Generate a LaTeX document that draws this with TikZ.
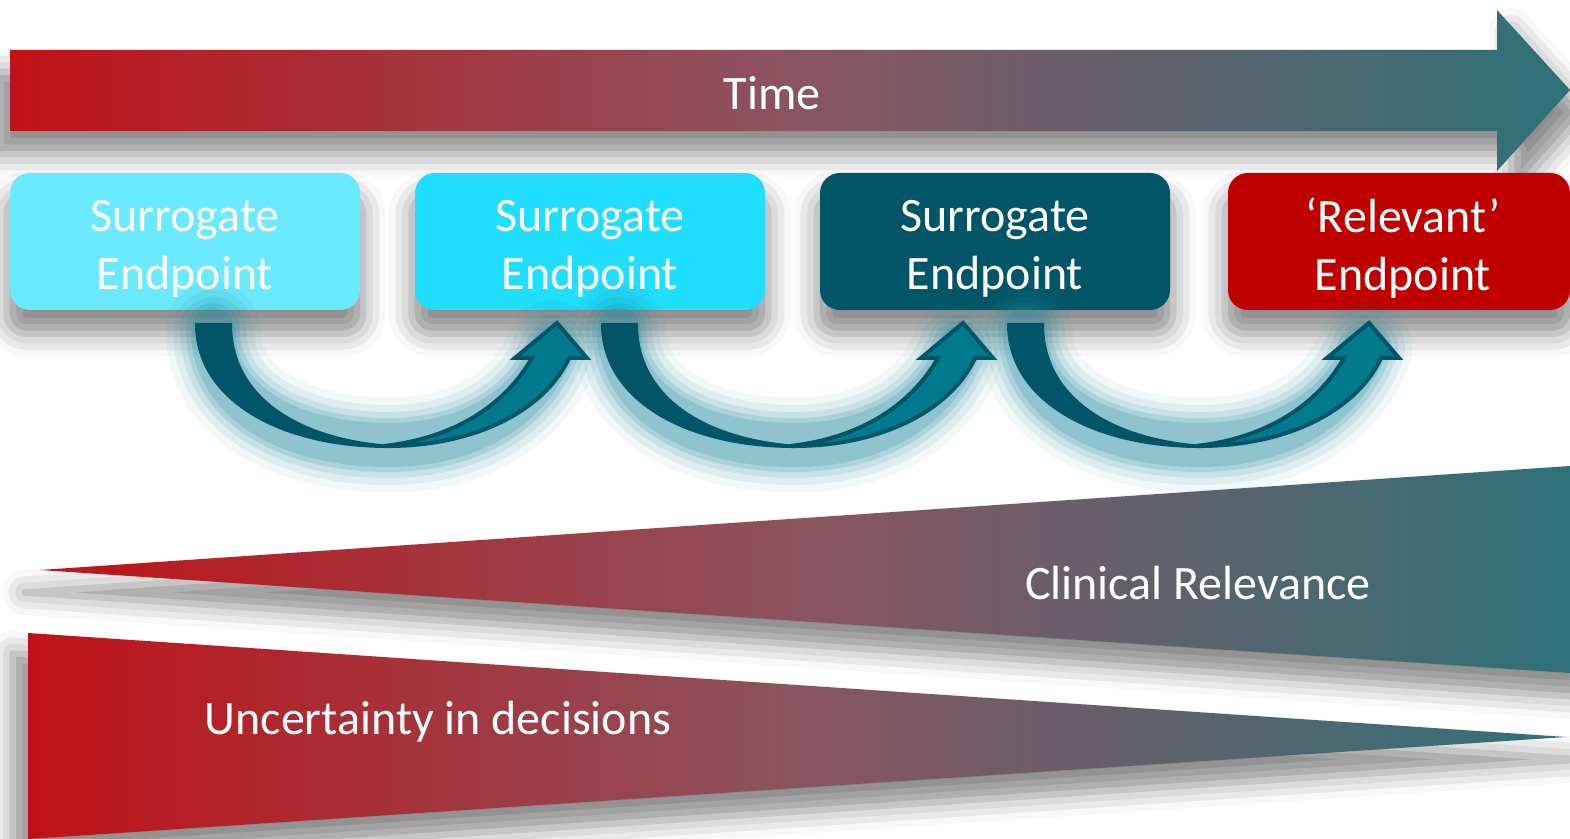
\documentclass[tikz,border=0pt]{standalone}
\usepackage{fontspec}
\setmainfont{Carlito}
\usetikzlibrary{shadows.blur}
\definecolor{gRed}{RGB}{192,18,22}
\definecolor{gMid}{RGB}{138,84,96}
\definecolor{gTeal}{RGB}{46,113,121}
\definecolor{boxA}{RGB}{107,233,254}
\definecolor{boxB}{RGB}{32,222,254}
\definecolor{boxC}{RGB}{0,85,103}
\definecolor{boxD}{RGB}{192,0,0}
\definecolor{arrDark}{RGB}{0,86,104}
\definecolor{arrLight}{RGB}{0,122,140}
\definecolor{glowC}{RGB}{30,135,155}
\tikzset{
  gradfill/.style={left color=gRed, right color=gTeal, middle color=gMid},
  softshadow/.style={blur shadow={shadow xshift=0pt, shadow yshift=-11pt, shadow blur radius=11pt, shadow opacity=45, shadow scale=1.02}},
  epbox/.style={rounded corners=10pt, minimum width=175pt, minimum height=68.5pt, inner sep=0pt, softshadow},
  boxtxt/.style={text=white, font=\fontsize{24}{29}\selectfont, align=center, inner sep=0pt},
  lbl/.style={text=white, font=\fontsize{24}{29}\selectfont, inner sep=0pt},
  glowline/.style={draw=glowC, line cap=round, line join=round},
}
\begin{document}
\begin{tikzpicture}[x=0.5pt, y=-0.5pt]
\useasboundingbox (0,0) rectangle (1570,839);
% Top time arrow
\path[gradfill, softshadow] (10,50) -- (1497,50) -- (1497,10) -- (1570,90) -- (1497,171) -- (1497,131) -- (10,131) -- cycle;
\node[lbl] (time) at (772,93) {Time};
% Wedges
\path[gradfill, softshadow] (40,570) -- (1570,466) -- (1570,673) -- cycle;
\node[lbl] (clin) at (1198,583) {Clinical Relevance};
\path[gradfill, softshadow] (28,633) -- (1566,737) -- (28,839) -- cycle;
\node[lbl] (unc) at (438,722) {Uncertainty in decisions};
% Boxes
\node[epbox, fill=boxA] (b1) at (185,241.5) {};
\node[epbox, fill=boxB] (b2) at (590,241.5) {};
\node[epbox, fill=boxC] (b3) at (995,241.5) {};
\node[epbox, fill=boxD, minimum width=171pt] (b4) at (1399,241.5) {};
\node[boxtxt, yshift=-3.5pt] (t1) at (b1.center) {Surrogate\\Endpoint};
\node[boxtxt, yshift=-3.5pt] (t2) at (b2.center) {Surrogate\\Endpoint};
\node[boxtxt, yshift=-3.5pt] (t3) at (b3.center) {Surrogate\\Endpoint};
\node[boxtxt, yshift=-3.5pt] (t4) at ([xshift=2pt]b4.center) {‘Relevant’\\Endpoint};
% Curved arrows
\foreach \dx in {0,406,812}{
  \begin{scope}[xshift=\dx*0.5pt]
    \foreach \w/\o in {95/0.06, 80/0.09, 66/0.12, 54/0.16, 44/0.2}{
      \draw[glowline, line width=\w*0.5pt, opacity=\o]
        (213,330) .. controls (213,402) and (290,445) .. (388,445) .. controls (470,445) and (530,408) .. (553,348);
    }
    \filldraw[fill=arrDark, draw=arrDark, line width=1pt, line join=round]
      (196,324) -- (231,324) .. controls (231,398) and (300,440) .. (392,446)
      -- (388,447) .. controls (280,447) and (196,400) .. (196,324) -- cycle;
    \filldraw[fill=arrLight, draw=arrDark, line width=2pt, line join=miter]
      (384,446) .. controls (475,447) and (545,410) .. (569,358) -- (587,358) -- (557,323) -- (515,358) -- (532,358)
      .. controls (505,405) and (455,438) .. (384,446) -- cycle;
  \end{scope}
}
\end{tikzpicture}
\end{document}
